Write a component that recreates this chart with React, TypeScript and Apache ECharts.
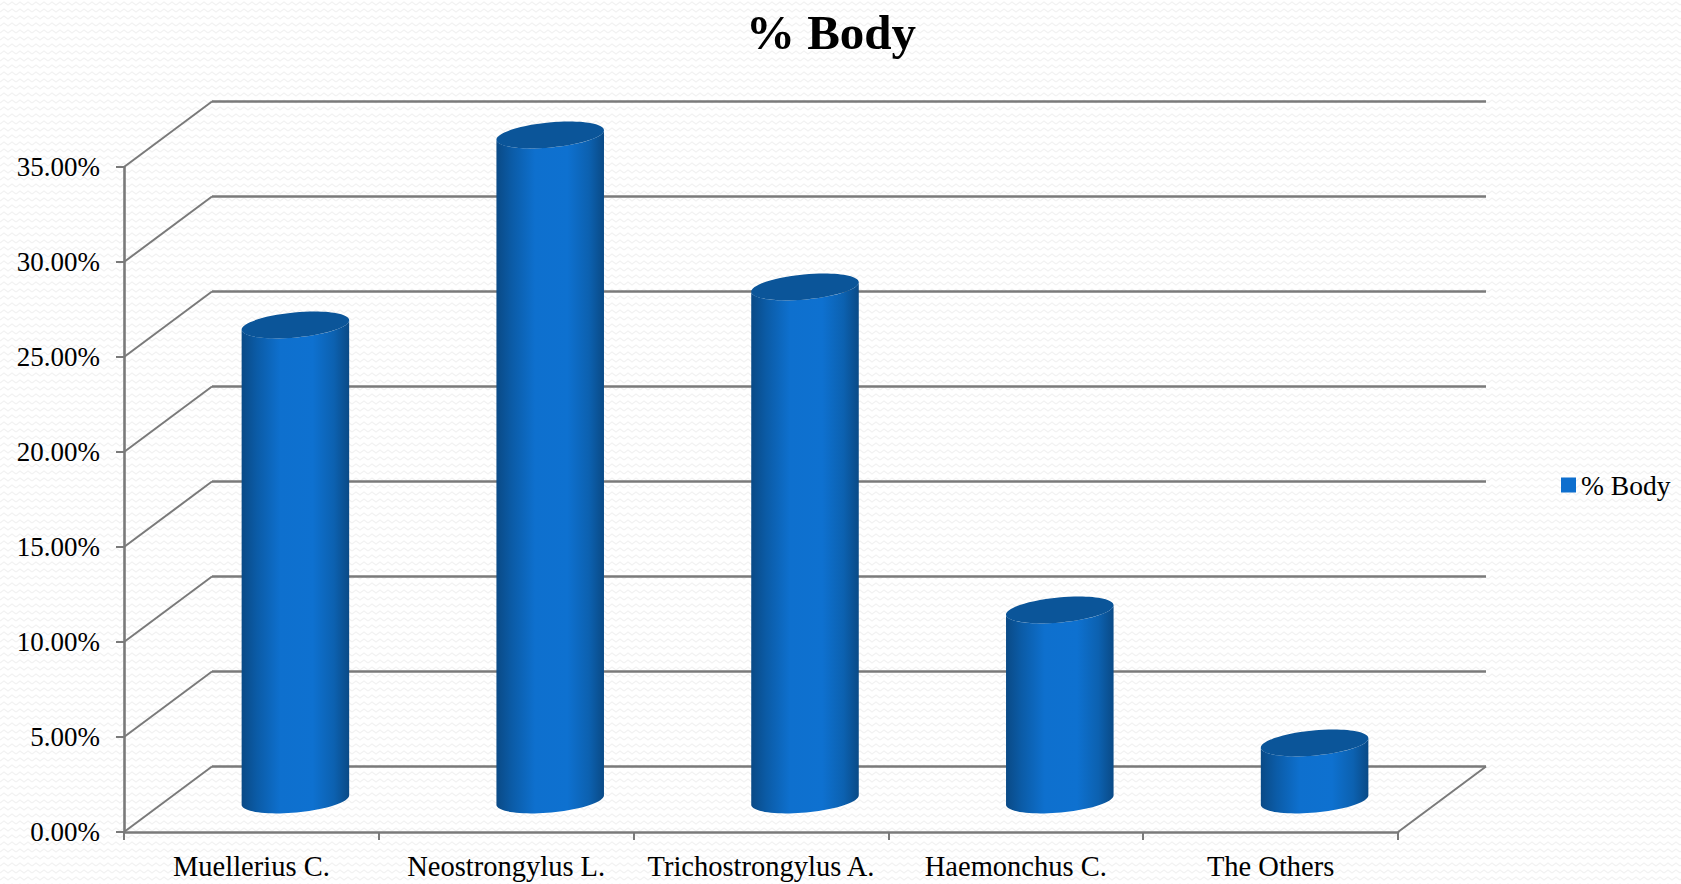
import React, { useEffect, useRef } from "react";
import * as echarts from "echarts";

const TITLE = "% Body";
const SERIES_NAME = "% Body";
const categories = ["Muellerius C.", "Neostrongylus L.", "Trichostrongylus A.", "Haemonchus C.", "The Others"];
const values = [25, 35, 27, 10, 3];
const yTicks = [0, 5, 10, 15, 20, 25, 30, 35];

const FONT = "Liberation Serif";
const GREY = "#7a7a7a";
const DEPTH_X = 88;
const DEPTH_Y = 65.5;
const BAR_DX = 44;
const BAR_DY = 32;
const RX = 54;
const RY = 12.5;
const TILT = (5.3 * Math.PI) / 180;

const wave = encodeURIComponent(
  `<svg xmlns='http://www.w3.org/2000/svg' width='16' height='14'><path d='M0 5 L4 2 L8 5 L12 2 L16 5' fill='none' stroke='#f2f2f2' stroke-width='1.2'/><path d='M0 12 L4 9 L8 12 L12 9 L16 12' fill='none' stroke='#f2f2f2' stroke-width='1.2'/></svg>`
);

function ellipsePoint(cx: number, cy: number, t: number) {
  const ex = RX * Math.cos(t);
  const ey = RY * Math.sin(t);
  return [cx + ex * Math.cos(TILT) + ey * Math.sin(TILT), cy - ex * Math.sin(TILT) + ey * Math.cos(TILT)];
}

function renderWall(params: any, api: any) {
  const v = api.value(0);
  const y = api.coord([0, v])[1];
  const cs = params.coordSys;
  const x0 = cs.x;
  const right = cs.x + cs.width;
  const diag = { stroke: GREY, lineWidth: 2, fill: "none" };
  const horiz = { stroke: GREY, lineWidth: 2.6, fill: "none" };
  const children: any[] = [
    { type: "line", shape: { x1: x0, y1: y, x2: x0 + DEPTH_X, y2: y - DEPTH_Y }, style: diag },
    { type: "line", shape: { x1: x0 + DEPTH_X, y1: y - DEPTH_Y, x2: right + DEPTH_X, y2: y - DEPTH_Y }, style: horiz },
  ];
  if (v === 0) {
    children.push({ type: "line", shape: { x1: right, y1: y, x2: right + DEPTH_X, y2: y - DEPTH_Y }, style: diag });
  }
  return { type: "group", children };
}

function renderBar(_params: any, api: any) {
  const i = api.value(0);
  const base = api.coord([i, 0]);
  const top = api.coord([i, api.value(1)]);
  const cx = base[0] + BAR_DX;
  const by = base[1] - BAR_DY;
  const ty = top[1] - BAR_DY;
  const pts: number[][] = [];
  pts.push(ellipsePoint(cx, ty, Math.PI));
  for (let k = 0; k <= 40; k++) pts.push(ellipsePoint(cx, by, Math.PI - (k / 40) * Math.PI));
  pts.push(ellipsePoint(cx, ty, 0));
  for (let k = 0; k <= 40; k++) pts.push(ellipsePoint(cx, ty, (k / 40) * Math.PI));
  return {
    type: "group",
    children: [
      {
        type: "polygon",
        shape: { points: pts },
        style: {
          fill: new echarts.graphic.LinearGradient(0, 0, 1, 0, [
            { offset: 0, color: "#0a4a86" },
            { offset: 0.14, color: "#0b5ba6" },
            { offset: 0.36, color: "#0e70ce" },
            { offset: 0.66, color: "#0e71d0" },
            { offset: 0.86, color: "#0c61b0" },
            { offset: 1, color: "#0a4a86" },
          ]),
        },
      },
      {
        type: "ellipse",
        x: cx,
        y: ty,
        rotation: TILT,
        shape: { cx: 0, cy: 0, rx: RX, ry: RY },
        style: { fill: "#0b5599" },
      },
    ],
  };
}

export default function App() {
  const ref = useRef<HTMLDivElement>(null);
  useEffect(() => {
    document.body.style.margin = "0";
    const chart = echarts.init(ref.current!, null, { renderer: "svg" });
    chart.setOption({
      animation: false,
      title: {
        text: TITLE,
        left: 826,
        top: 3,
        textAlign: "center",
        textStyle: { fontFamily: FONT, fontSize: 49, fontWeight: "bold", color: "#000" },
      },
      legend: {
        data: [SERIES_NAME],
        left: 1556,
        top: 466,
        icon: "rect",
        itemWidth: 15,
        itemHeight: 15,
        textStyle: { fontFamily: FONT, fontSize: 27.5, color: "#000", padding: [0, 0, 3, 0] },
      },
      grid: { left: 124, top: 167, width: 1274, height: 665, containLabel: false },
      xAxis: {
        type: "category",
        data: categories,
        axisLine: { lineStyle: { color: GREY, width: 2.6 } },
        axisTick: { show: true, length: 8, alignWithLabel: false, lineStyle: { color: GREY, width: 2 } },
        axisLabel: { fontFamily: FONT, fontSize: 28.5, color: "#000", margin: 20, interval: 0 },
      },
      yAxis: {
        type: "value",
        min: 0,
        max: 35,
        interval: 5,
        splitLine: { show: false },
        axisLine: { show: true, lineStyle: { color: GREY, width: 2.6 } },
        axisTick: { show: true, length: 8, lineStyle: { color: GREY, width: 2 } },
        axisLabel: { fontFamily: FONT, fontSize: 27, color: "#000", margin: 24, padding: [4, 0, 0, 0], formatter: (v: number) => v.toFixed(2) + "%" },
      },
      series: [
        {
          type: "custom",
          name: "wall",
          silent: true,
          z: 1,
          clip: false,
          coordinateSystem: "cartesian2d",
          encode: { y: 0 },
          data: yTicks.map((v) => [v]),
          renderItem: renderWall,
        },
        {
          type: "custom",
          name: SERIES_NAME,
          z: 3,
          clip: false,
          itemStyle: { color: "#0e6fce" },
          coordinateSystem: "cartesian2d",
          encode: { x: 0, y: 1 },
          data: values.map((v, i) => [i, v]),
          renderItem: renderBar,
        },
      ],
    });
    return () => chart.dispose();
  }, []);
  return (
    <div
      ref={ref}
      style={{
        width: 1681,
        height: 884,
        backgroundColor: "#fff",
        backgroundImage: `url("data:image/svg+xml,${wave}")`,
      }}
    />
  );
}
